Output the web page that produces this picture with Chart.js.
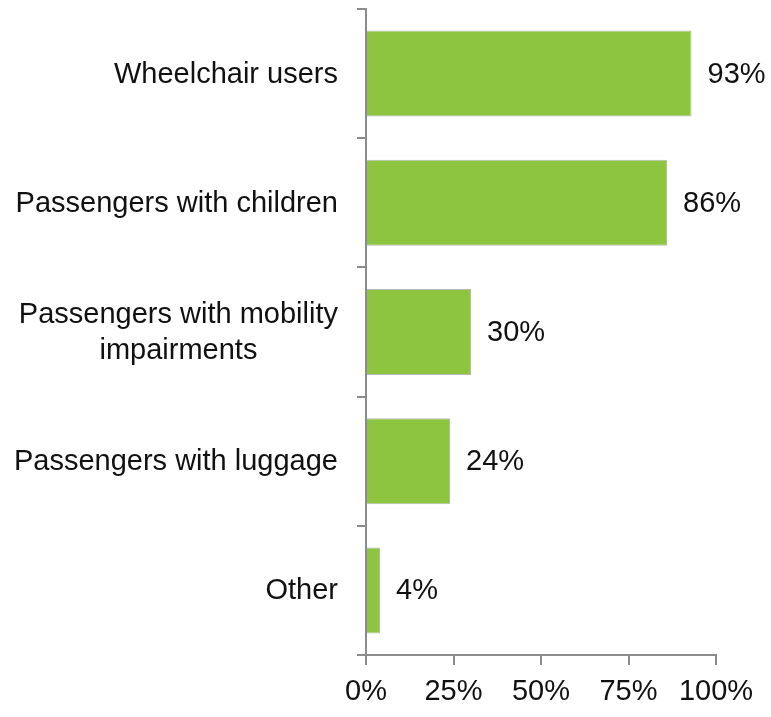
<!DOCTYPE html>
<html>
<head>
<meta charset="utf-8">
<script src="https://cdn.jsdelivr.net/npm/chart.js@4"></script>
<style>
    html, body { margin: 0; padding: 0; background: #fff; overflow: hidden; }
    #chart { display: block; }
</style>
</head>
<body>
<canvas id="chart" width="771" height="717"></canvas>
<script>
// Chart data
const categories = ['Wheelchair users', 'Passengers with children', ['Passengers with mobility', 'impairments'], 'Passengers with luggage', 'Other'];
const shares = [93, 86, 30, 24, 4];
const tickValues = [0, 25, 50, 75, 100];

const FONT = '"Liberation Sans", Arial, sans-serif';

// Draw the value labels to the right of each bar
const valueLabels = {
    id: 'valueLabels',
    afterDatasetsDraw(chart) {
        const ctx = chart.ctx;
        const meta = chart.getDatasetMeta(0);
        ctx.save();
        ctx.font = '29px ' + FONT;
        ctx.fillStyle = '#111';
        ctx.textAlign = 'left';
        ctx.textBaseline = 'middle';
        meta.data.forEach((bar, i) => {
            ctx.fillText(shares[i] + '%', bar.x + 16, bar.y + 1);
        });
        ctx.restore();
    }
};

// Category labels: right aligned block, lines centred inside the block
const categoryLabels = {
    id: 'categoryLabels',
    afterDraw(chart) {
        const ctx = chart.ctx;
        const yScale = chart.scales.y;
        const right = yScale.right - 28;
        ctx.save();
        ctx.font = '29px ' + FONT;
        ctx.fillStyle = '#111';
        ctx.textAlign = 'center';
        ctx.textBaseline = 'middle';
        categories.forEach((label, i) => {
            const lines = Array.isArray(label) ? label : [label];
            const maxW = Math.max(...lines.map(l => ctx.measureText(l).width));
            const cx = right - maxW / 2;
            const cy = yScale.getPixelForValue(i);
            const lh = 36;
            lines.forEach((line, j) => {
                ctx.fillText(line, cx, cy + (j - (lines.length - 1) / 2) * lh + 1);
            });
        });
        ctx.restore();
    }
};

const ctx = document.getElementById('chart').getContext('2d');
const chart = new Chart(ctx, {
    type: 'bar',
    data: {
        labels: categories,
        datasets: [{
            data: shares,
            backgroundColor: '#8dc540',
            borderColor: '#b8b8b8',
            borderWidth: 1,
            barPercentage: 0.666,
            categoryPercentage: 1
        }]
    },
    options: {
        indexAxis: 'y',
        responsive: false,
        animation: false,
        devicePixelRatio: 1,
        layout: {
            padding: { top: 9, right: 55, left: 0, bottom: 0 }
        },
        plugins: {
            legend: { display: false },
            tooltip: { enabled: false }
        },
        scales: {
            x: {
                min: 0,
                max: 100,
                afterBuildTicks: (scale) => {
                    scale.ticks = tickValues.map(v => ({ value: v }));
                },
                afterFit: (scale) => { scale.height = 62; },
                grid: {
                    drawOnChartArea: false,
                    drawTicks: true,
                    tickLength: 10,
                    color: '#8c8c8c',
                    lineWidth: 2
                },
                border: { color: '#8c8c8c', width: 2 },
                ticks: {
                    color: '#111',
                    padding: 10,
                    maxRotation: 0,
                    font: { family: FONT, size: 29 },
                    callback: (v) => v + '%'
                }
            },
            y: {
                afterFit: (scale) => { scale.width = 366; },
                grid: {
                    offset: true,
                    drawOnChartArea: false,
                    drawTicks: true,
                    tickLength: 9,
                    color: '#8c8c8c',
                    lineWidth: 2
                },
                border: { color: '#8c8c8c', width: 2 },
                ticks: { display: false }
            }
        }
    },
    plugins: [valueLabels, categoryLabels]
});
</script>
</body>
</html>
